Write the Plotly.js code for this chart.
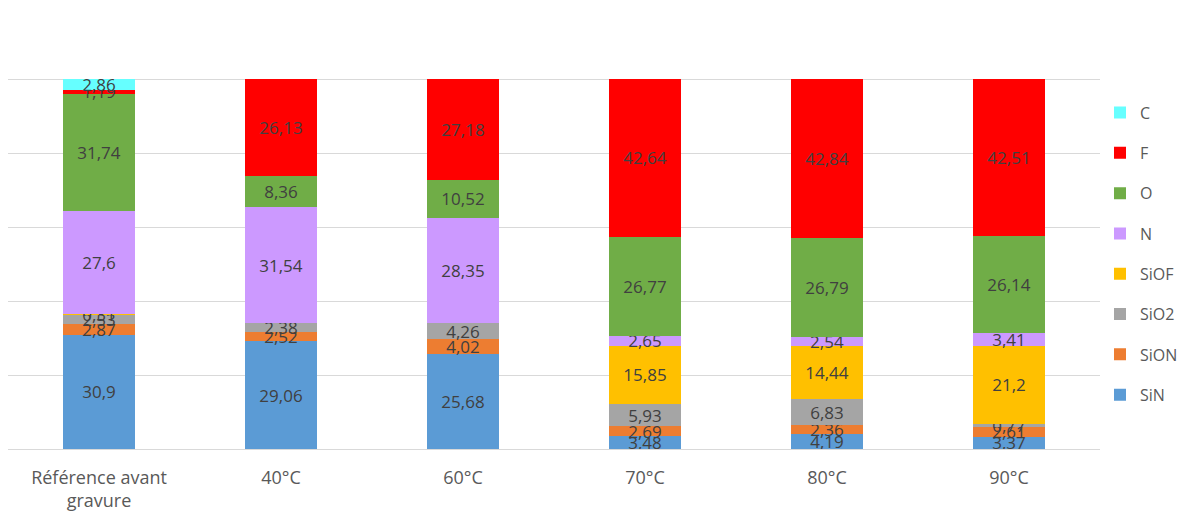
<!DOCTYPE html>
<html><head><meta charset="utf-8">
<script src="https://cdn.plot.ly/plotly-3.0.1.min.js"></script>
<style>body{margin:0;background:#fff}#c{width:1201px;height:518px}</style>
</head><body><div id="c"></div>
<script>
const categories = ["Référence avant<br>gravure", "40°C", "60°C", "70°C", "80°C", "90°C"];
const SiN  = [30.9, 29.06, 25.68, 3.48, 4.19, 3.37];
const SiON = [2.87, 2.52, 4.02, 2.69, 2.36, 2.61];
const SiO2 = [2.53, 2.38, 4.26, 5.93, 6.83, 0.77];
const SiOF = [0.31, null, null, 15.85, 14.44, 21.2];
const N    = [27.6, 31.54, 28.35, 2.65, 2.54, 3.41];
const O    = [31.74, 8.36, 10.52, 26.77, 26.79, 26.14];
const F    = [1.19, 26.13, 27.18, 42.64, 42.84, 42.51];
const C    = [2.86, null, null, null, null, null];

const series = [
  {name: "SiN", y: SiN, color: "#5b9bd5"},
  {name: "SiON", y: SiON, color: "#ed7d31"},
  {name: "SiO2", y: SiO2, color: "#a5a5a5"},
  {name: "SiOF", y: SiOF, color: "#ffc000"},
  {name: "N", y: N, color: "#cc99ff"},
  {name: "O", y: O, color: "#70ad47"},
  {name: "F", y: F, color: "#ff0000"},
  {name: "C", y: C, color: "#66ffff"}
];

const FONT = "Open Sans, Noto Sans, sans-serif";
const fmt = v => v == null ? "" : String(v).replace(".", ",");

const traces = series.map((s, i) => ({
  type: "bar",
  name: s.name,
  x: categories,
  y: s.y,
  marker: {color: s.color},
  text: s.y.map(fmt),
  textposition: "inside",
  insidetextanchor: "middle",
  constraintext: "none",
  textangle: 0,
  textfont: {family: FONT, size: 17, color: "#404040"},
  legendgroup: "g" + i,
  legendrank: series.length - i,
  hoverinfo: "none"
}));

const layout = {
  barmode: "stack",
  bargap: 0.6,
  width: 1201, height: 518,
  margin: {l: 8, r: 101, t: 5, b: 69},
  paper_bgcolor: "#fff", plot_bgcolor: "#fff",
  showlegend: true,
  legend: {
    traceorder: "grouped",
    tracegroupgap: 16.5,
    x: 1.0, xanchor: "left", y: 0.44, yanchor: "middle",
    font: {family: FONT, size: 16, color: "#595959"}
  },
  xaxis: {
    showgrid: false, showline: true, linecolor: "#d9d9d9", linewidth: 1,
    ticks: "", ticklabelstandoff: 12,
    tickfont: {family: FONT, size: 18, color: "#595959"},
    fixedrange: true
  },
  yaxis: {
    range: [0, 120], dtick: 20, showgrid: true, gridcolor: "#d9d9d9", gridwidth: 1,
    showticklabels: false, zeroline: false, ticks: "", fixedrange: true
  },
  hovermode: false
};

Plotly.newPlot("c", traces, layout, {displayModeBar: false, staticPlot: true});
</script></body></html>
